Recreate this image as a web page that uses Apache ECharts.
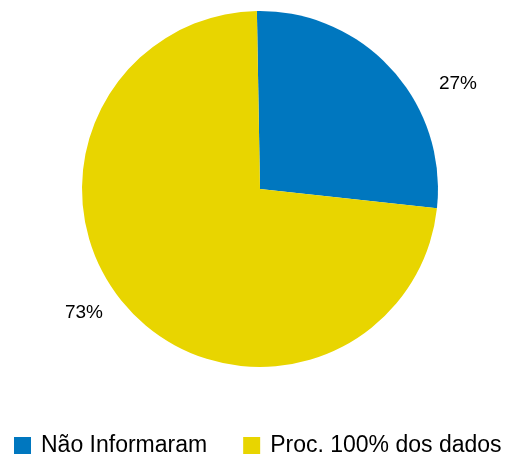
<!DOCTYPE html>
<html><head><meta charset="utf-8">
<script src="https://cdn.jsdelivr.net/npm/echarts@6/dist/echarts.min.js"></script>
<style>html,body{margin:0;padding:0;background:#fff}#c{width:508px;height:456px}</style>
</head><body><div id="c"></div>
<script>
const categories = ['Não Informaram', 'Proc. 100% dos dados'];
const values = [27, 73];
const colors = ['#0077BF', '#E8D500'];
const labelPos = [[458, 84], [84, 313]];

const chart = echarts.init(document.getElementById('c'), null, {renderer: 'canvas'});
chart.setOption({
  animation: false,
  color: colors,
  legend: {
    bottom: -1, left: 14, padding: 0,
    itemWidth: 17, itemHeight: 17, itemGap: 36,
    icon: 'rect',
    textStyle: {fontFamily: 'Liberation Sans', fontSize: 23, color: '#000', padding: [0,0,0,5]},
    data: categories
  },
  series: [{
    type: 'pie',
    center: [260, 189],
    radius: 178,
    startAngle: 91,
    clockwise: true,
    data: categories.map((n, i) => ({name: n, value: values[i]})),
    label: {
      show: true, position: 'outside',
      formatter: '{d}%',
      fontFamily: 'Liberation Sans', fontSize: 19, color: '#000'
    },
    labelLine: {show: false},
    labelLayout: function (p) {
      return {x: labelPos[p.dataIndex][0], y: labelPos[p.dataIndex][1], align: 'center', verticalAlign: 'middle'};
    },
    itemStyle: {borderWidth: 0},
    emphasis: {disabled: true}
  }]
});
</script></body></html>
